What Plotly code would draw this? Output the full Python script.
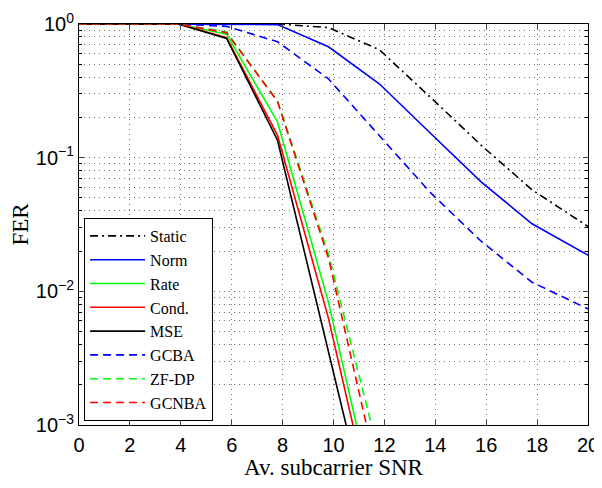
import plotly.graph_objects as go

snr = [0, 2, 3.9, 5.8, 7.8, 9.8, 11.8, 13.8, 15.8, 17.8, 19.8, 21.8]

fer_static = [1, 1, 1, 1, 1, 0.94, 0.643, 0.284, 0.124, 0.0575, 0.032, 0.0182]
fer_norm = [1, 1, 1, 1, 0.99, 0.676, 0.357, 0.153, 0.066, 0.032, 0.0195, 0.012]
fer_rate = [1, 1, 1, 0.84, 0.185, 0.0083, 1.8e-4]
fer_cond = [1, 1, 1, 0.79, 0.147, 0.0063, 1.38e-4]
fer_mse = [1, 1, 1, 0.78, 0.135, 0.00355, 9.3e-5]
fer_gcba = [1, 1, 1, 0.96, 0.736, 0.389, 0.145, 0.055, 0.0237, 0.0117, 0.0077, 0.0051]
fer_zfdp = [1, 1, 1, 0.87, 0.266, 0.019, 5.9e-4]
fer_gcnba = [1, 1, 1, 0.86, 0.263, 0.0178, 3.8e-4]

series = [
    ("Static", fer_static, "black", "8px,4px,2px,4px"),
    ("Norm", fer_norm, "#0000ff", "solid"),
    ("Rate", fer_rate, "#00ff00", "solid"),
    ("Cond.", fer_cond, "#ff0000", "solid"),
    ("MSE", fer_mse, "black", "solid"),
    ("GCBA", fer_gcba, "#0000ff", "8px,5px"),
    ("ZF-DP", fer_zfdp, "#00ff00", "8px,5px"),
    ("GCNBA", fer_gcnba, "#ff0000", "8px,5px"),
]

x_ticks = [0, 2, 4, 6, 8, 10, 12, 14, 16, 18, 20]
y_ticks = [1, 0.1, 0.01, 0.001]
y_ticktext = ["10<sup>0</sup>", "10<sup>−1</sup>", "10<sup>−2</sup>", "10<sup>−3</sup>"]
y_minor = [m * 10 ** e for e in (-3, -2, -1) for m in range(2, 10)]

fig = go.Figure()
for name, vals, color, dash in series:
    fig.add_trace(go.Scatter(
        x=snr[:len(vals)], y=vals, name=name, mode="lines",
        line=dict(color=color, width=1.6, dash=dash),
    ))

grid_color = "rgba(0,0,0,0.55)"
grid_dash = "1px,4px"
fig.update_layout(
    width=594, height=472,
    margin=dict(l=71, r=14, t=16, b=55),
    paper_bgcolor="white", plot_bgcolor="white",
    showlegend=True,
    legend=dict(
        x=0.01, y=0.01, xanchor="left", yanchor="bottom",
        bgcolor="white", bordercolor="black", borderwidth=1,
        font=dict(family="Liberation Serif", size=16, color="black"),
        itemwidth=55, tracegroupgap=0,
    ),
    font=dict(family="Liberation Sans", color="black"),
)
fig.update_xaxes(
    range=[0, 20], tickvals=x_ticks, ticks="inside", ticklen=5, automargin=False,
    ticklabelstandoff=2,
    showline=True, linecolor="black", linewidth=1, mirror="allticks",
    showgrid=True, gridcolor=grid_color, griddash=grid_dash, gridwidth=1,
    zeroline=False, tickfont=dict(family="Liberation Sans", size=20),
    title=dict(text="Av. subcarrier SNR", font=dict(family="Liberation Serif", size=23), standoff=22),
)
fig.update_yaxes(
    type="log", range=[-3, 0], tickvals=y_ticks, ticktext=y_ticktext, automargin=False,
    ticks="inside", ticklen=5,
    showline=True, linecolor="black", linewidth=1, mirror="allticks",
    showgrid=True, gridcolor=grid_color, griddash=grid_dash, gridwidth=1,
    zeroline=False, tickfont=dict(family="Liberation Sans", size=20),
    minor=dict(tickvals=y_minor, ticks="inside", ticklen=3, tickcolor="black",
               showgrid=True, gridcolor=grid_color, griddash=grid_dash, gridwidth=1),
    title=dict(text="FER", font=dict(family="Liberation Serif", size=23), standoff=8),
)

fig.write_html("out.html")
